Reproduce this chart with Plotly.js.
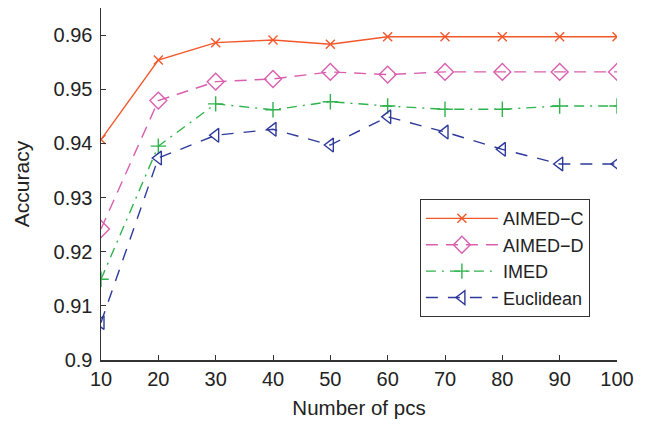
<!DOCTYPE html>
<html>
<head>
<meta charset="utf-8">
<script src="https://cdn.plot.ly/plotly-3.0.1.min.js"></script>
<style>html,body{margin:0;padding:0;background:#fff;}#chart{width:649px;height:424px;}</style>
</head>
<body>
<div id="chart"></div>
<script>
const pcs = [10, 20, 30, 40, 50, 60, 70, 80, 90, 100];
const aimedC = [0.9407, 0.9554, 0.9586, 0.9591, 0.9583, 0.9597, 0.9597, 0.9597, 0.9597, 0.9597];
const aimedD = [0.9242, 0.9479, 0.9514, 0.9519, 0.9532, 0.9527, 0.9532, 0.9532, 0.9532, 0.9532];
const imed = [0.9149, 0.9395, 0.9473, 0.9462, 0.9477, 0.9469, 0.9463, 0.9463, 0.9469, 0.9469];
const euclid = [0.9069, 0.9373, 0.9415, 0.9426, 0.9397, 0.9449, 0.9421, 0.9389, 0.9362, 0.9362];
const yTicks = [0.9, 0.91, 0.92, 0.93, 0.94, 0.95, 0.96];
const yTickText = ['0.9', '0.91', '0.92', '0.93', '0.94', '0.95', '0.96'];

const traces = [
  {x: pcs, y: aimedC, name: 'AIMED\u2212C', mode: 'lines+markers',
   line: {color: '#f2572a', width: 1.4},
   marker: {symbol: 'x-thin', size: 9, line: {color: '#f2572a', width: 1.4}}},
  {x: pcs, y: aimedD, name: 'AIMED\u2212D', mode: 'lines+markers',
   line: {color: '#d95fae', width: 1.4, dash: '12px,8px'},
   marker: {symbol: 'diamond-open', size: 13, color: '#d95fae', line: {width: 1.4}}},
  {x: pcs, y: imed, name: 'IMED', mode: 'lines+markers',
   line: {color: '#2fb34c', width: 1.4, dash: '10px,6px,2px,6px'},
   marker: {symbol: 'cross-thin', size: 11, line: {color: '#2fb34c', width: 1.4}}},
  {x: pcs, y: euclid, name: 'Euclidean', mode: 'lines+markers',
   line: {color: '#2d3a9a', width: 1.4, dash: '12px,10px'},
   marker: {symbol: 'triangle-left-open', size: 12, color: '#2d3a9a', line: {width: 1.4}}}
];

const layout = {
  width: 649, height: 424,
  margin: {l: 101, r: 32, t: 8, b: 64},
  paper_bgcolor: '#fff', plot_bgcolor: '#fff',
  font: {family: 'Liberation Sans, Arial, sans-serif', color: '#222', size: 19},
  showlegend: true,
  legend: {x: 0.618, y: 0.457, xanchor: 'left', yanchor: 'top',
    bgcolor: '#fff', bordercolor: '#333', borderwidth: 1,
    itemwidth: 72,
    font: {size: 18, color: '#222'}, tracegroupgap: 0},
  xaxis: {range: [10, 100], tickvals: pcs, ticks: 'inside', ticklen: 5, tickcolor: '#333',
    showline: true, linecolor: '#333', linewidth: 1.5, showgrid: false, zeroline: false,
    tickfont: {size: 20}, title: {text: 'Number of pcs', font: {size: 20.5}, standoff: 12}},
  yaxis: {range: [0.9, 0.965], tickvals: yTicks, ticktext: yTickText, ticks: 'inside', ticklen: 5, tickcolor: '#333',
    showline: true, linecolor: '#333', linewidth: 1.5, showgrid: false, zeroline: false,
    ticklabelstandoff: 3,
    tickfont: {size: 20}, title: {text: 'Accuracy', font: {size: 21}, standoff: 18}}
};

Plotly.newPlot('chart', traces, layout, {displayModeBar: false, staticPlot: true});
</script>
</body>
</html>
